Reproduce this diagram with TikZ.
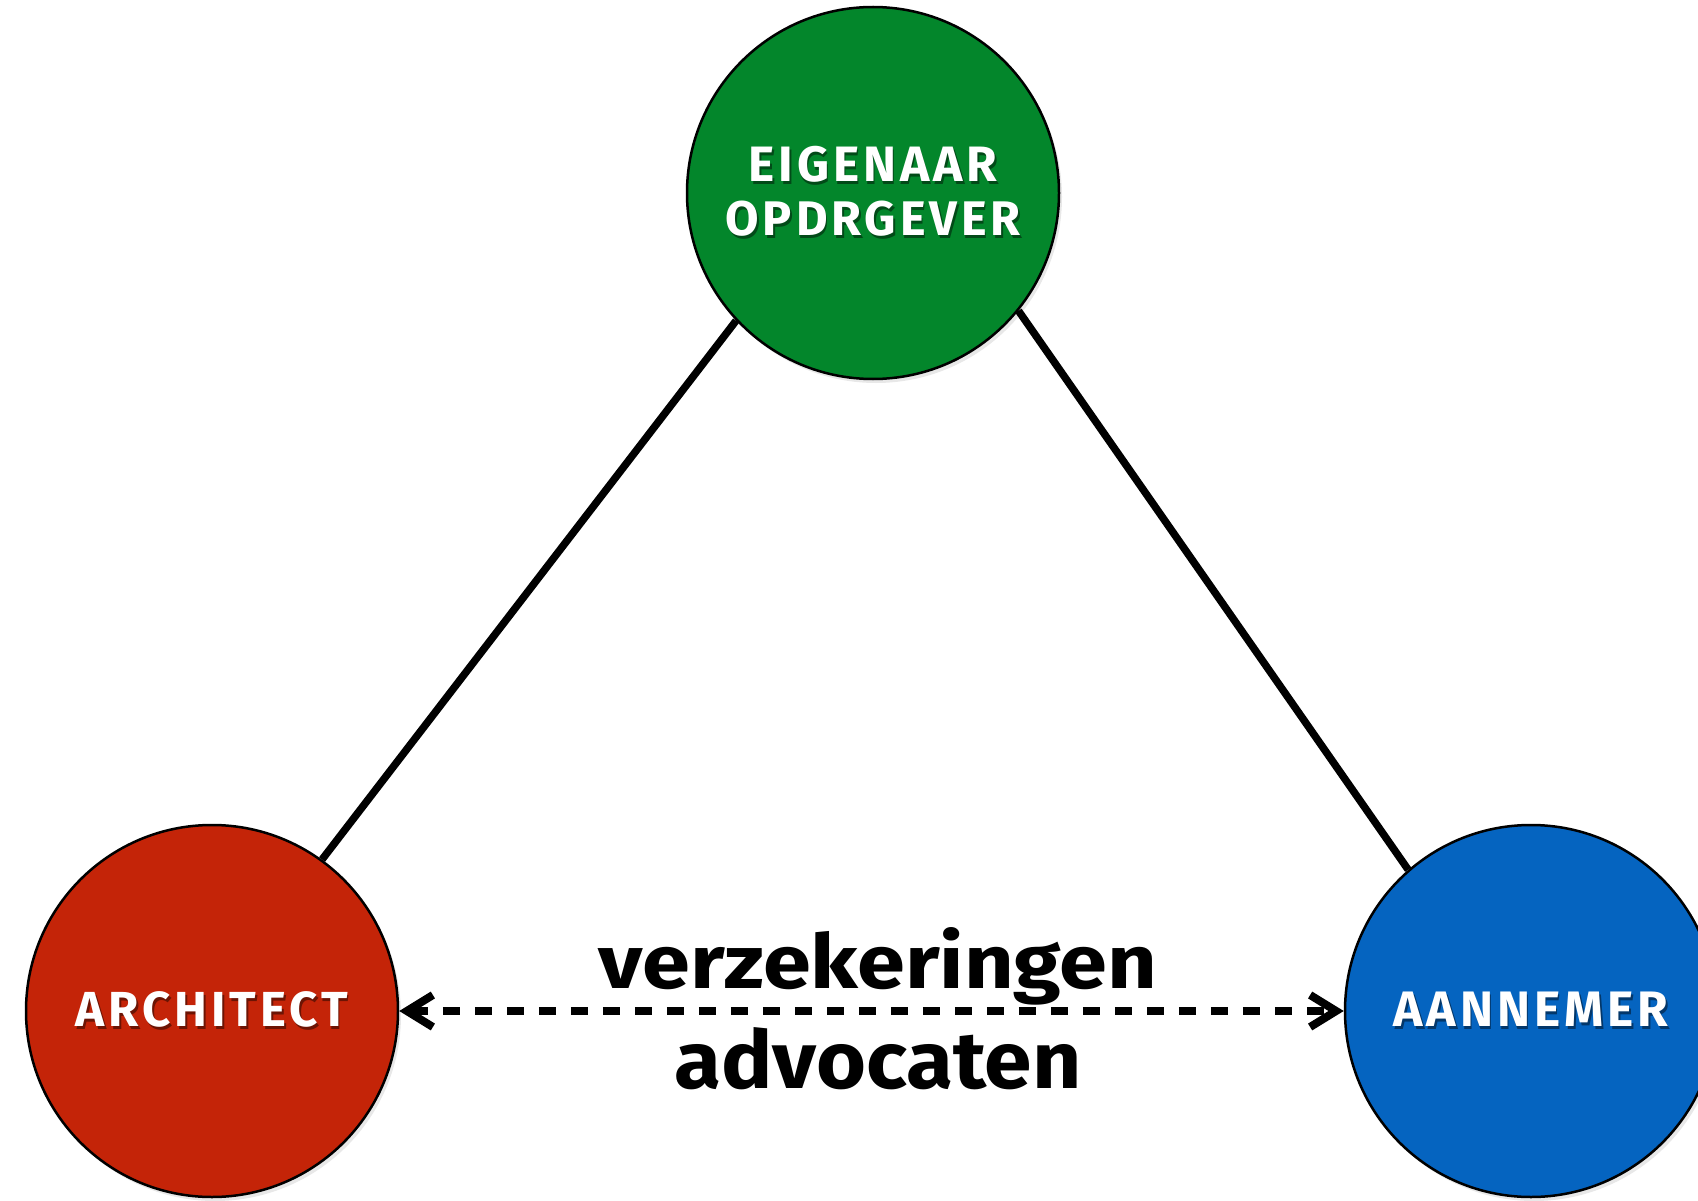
\documentclass[tikz,border=0pt]{standalone}
\usepackage{fontspec}
\setmainfont{Fira Sans}
\usetikzlibrary{arrows.meta,shadows}
\definecolor{cgreen}{RGB}{3,134,43}
\definecolor{cred}{RGB}{196,36,8}
\definecolor{cblue}{RGB}{5,100,192}
\newcommand{\wsh}[2]{{\rlap{\kern1.5pt\raisebox{-2.5pt}{\color{#1}#2}}\color{white}#2}}
\begin{document}
\begin{tikzpicture}[x=1pt,y=-1pt,
  party/.style={circle, draw=black, line width=2.5pt, minimum size=372pt, inner sep=0pt,
    drop shadow={shadow xshift=3pt, shadow yshift=-4pt, opacity=0.18}},
  ptext/.style={font=\bfseries\fontsize{48}{58}\selectfont\addfontfeature{LetterSpace=8}, align=center},
  link/.style={line width=7.5pt, black},
  twoway/.style={line width=8pt, black, dash pattern=on 17pt off 15pt,
    {Straight Barb[length=26pt,width=32pt]}-{Straight Barb[length=26pt,width=32pt]}},
  lbl/.style={font=\bfseries, anchor=base, inner sep=0pt}
]
\useasboundingbox (0,0) rectangle (1698,1201);
\node[party, fill=cgreen, ptext] (own) at (873,193)
  {\resizebox{249pt}{!}{\wsh{cgreen!55!black}{EIGENAAR}}\\[-4pt]
   \resizebox{295pt}{!}{\wsh{cgreen!55!black}{OPDRGEVER}}};
\node[party, fill=cred, ptext] (arch) at (212,1011)
  {\resizebox{272pt}{!}{\wsh{cred!55!black}{ARCHITECT}}};
\node[party, fill=cblue, ptext] (ann) at (1531,1011)
  {\resizebox{275pt}{!}{\wsh{cblue!55!black}{AANNEMER}}};
\draw[link] (arch.54) -- (own.223);
\draw[link] (own.-39) -- (ann.131);
\draw[twoway] (arch.east) -- (ann.west);
\node[lbl] (verz) at (878,988) {\resizebox{558pt}{61pt}{verzekeringen}};
\node[lbl] (adv) at (878,1088) {\resizebox{407pt}{61pt}{advocaten}};
\end{tikzpicture}
\end{document}
